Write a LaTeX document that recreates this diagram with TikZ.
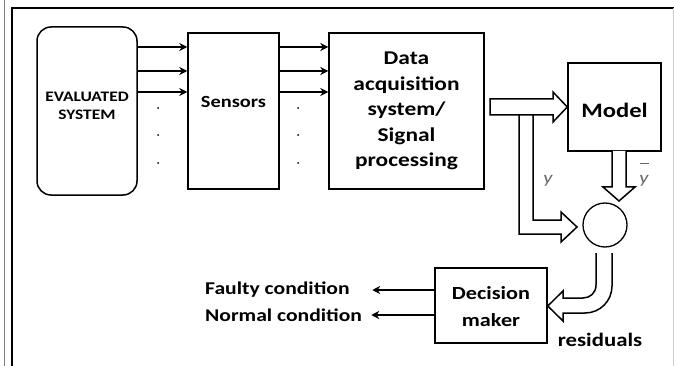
\documentclass[tikz,border=0pt]{standalone}
\usepackage{fontspec}
\setmainfont{Carlito}[FakeStretch=1.2]
\usetikzlibrary{arrows.meta}

\tikzset{
  block/.style={draw, line width=1.5pt, inner sep=0pt},
  txt/.style={align=center, inner sep=1pt, font=\bfseries},
  sig/.style={-{Stealth[length=8pt,width=8pt]}, line width=1.2pt},
  hollow/.style={draw, line width=1.5pt, fill=white, line join=miter},
}

\begin{document}
\begin{tikzpicture}[x=1pt, y=-1pt]
\useasboundingbox (0,0) rectangle (674,366);

% frame
\draw[line width=1pt, gray] (4,0) -- (4,366);
\draw[line width=2pt] (12,366) -- (12,8) -- (674,8);
\draw[line width=0.8pt, gray!40] (673,8) -- (673,366);

% blocks
\node[block, rounded corners=14pt, minimum width=100pt, minimum height=168pt] (eval) at (87,111) {};
\node[txt, font=\bfseries\fontsize{14.5}{18}\selectfont] (evaltxt) at (87,106) {EVALUATED\\SYSTEM};

\node[block, minimum width=91pt, minimum height=156pt] (sens) at (233.5,111) {};
\node[txt, font=\bfseries\fontsize{17}{20}\selectfont] (senstxt) at (233.5,102) {Sensors};

\node[block, minimum width=155pt, minimum height=156pt] (daq) at (406.5,111) {};
\node[txt, font=\bfseries\fontsize{19.5}{25.5}\selectfont] (daqtxt) at (406.5,111)
  {Data\\acquisition\\system/\\Signal\\processing};

\node[block, minimum width=93pt, minimum height=88pt] (model) at (614.5,107) {};
\node[txt, font=\bfseries\fontsize{20.5}{24}\selectfont] (modeltxt) at (614.5,110) {Model};

\node[draw, circle, line width=1.3pt, minimum size=44pt, inner sep=0pt] (sum) at (605,225) {};

\node[block, minimum width=112pt, minimum height=75pt] (dec) at (491,305.5) {};
\node[txt, font=\bfseries\fontsize{18.5}{27}\selectfont] (dectxt) at (491,306.5) {Decision\\maker};

% labels
\node[txt, font=\bfseries\fontsize{19}{22}\selectfont] (resid) at (600,340) {residuals};
\node[txt, anchor=west, font=\bfseries\fontsize{18}{20}\selectfont] (faulty) at (204,290) {Faulty condition};
\node[txt, anchor=west, font=\bfseries\fontsize{18}{20}\selectfont] (normal) at (204,315) {Normal condition};
\node[inner sep=0pt, text=gray!80!black, font=\itshape\fontsize{17}{20}\selectfont] (ylab) at (548,181) {y};
\node[inner sep=0pt, text=gray!80!black, font=\itshape\fontsize{17}{20}\selectfont] (ybar) at (644,181) {y};
\draw[gray!80!black, line width=0.8pt] ([xshift=-4pt,yshift=12pt]ybar.north) -- ++(9,0);

% signal lines
\foreach \y in {47,71,92} {
  \draw[sig] (eval.east |- 0,\y) -- (sens.west |- 0,\y);
  \draw[sig] (sens.east |- 0,\y) -- (daq.west |- 0,\y);
}
\foreach \y in {108,135,163} {
  \fill (158,\y) circle (1pt);
  \fill (298,\y) circle (1pt);
}

% decision outputs
\draw[sig] (dec.west |- faulty) -- ++(-62,0);
\draw[sig] (dec.west |- normal) -- ++(-63,0);

% hollow arrows
\draw[hollow] (519,115) -- (519,234) -- (561,234) -- (561,242) -- (577,227)
  -- (561,212) -- (561,220) -- (533,220) -- (533,115);
\draw[hollow] (490,99) -- (553,99) -- (553,92) -- (model.west) -- (553,122)
  -- (553,115) -- (490,115) -- cycle;
\draw[hollow] (612,151) -- (612,187) -- (603,187) -- (619,201) -- (635,187)
  -- (626,187) -- (626,151);
\draw[hollow] (596,253) -- (596,285) .. controls (596,293) and (590,298) .. (583,298)
  -- (563,298) -- (563,291) -- (dec.east |- 0,306) -- (563,321) -- (563,313)
  -- (585,313) .. controls (600,313) and (612,301) .. (612,286) -- (612,253);

\end{tikzpicture}
\end{document}
